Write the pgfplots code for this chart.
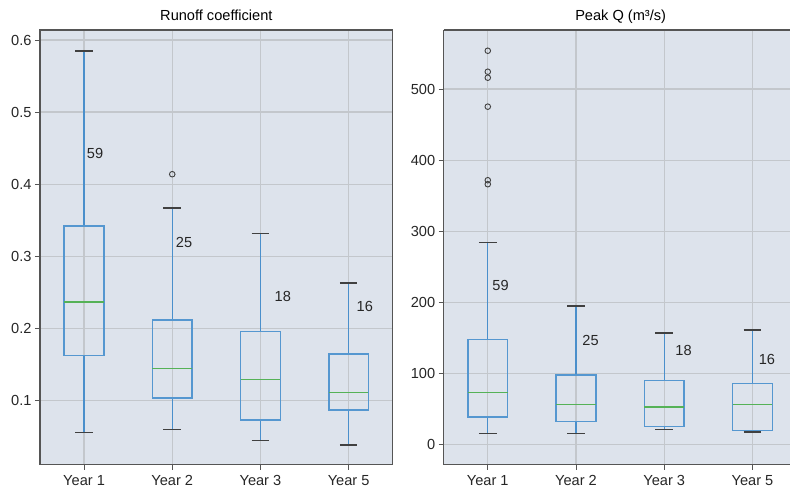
\documentclass[border=0pt]{standalone}
\usepackage{fontspec}
\setmainfont{Liberation Sans}
\usepackage{pgfplots}
\pgfplotsset{compat=1.18}

\definecolor{panelbg}{HTML}{DDE3EC}
\definecolor{gridgrey}{HTML}{C3C7CC}
\definecolor{framegrey}{HTML}{555555}
\definecolor{boxblue}{HTML}{5597D0}
\definecolor{whiskblue}{HTML}{4A8FCB}
\definecolor{medgreen}{HTML}{55B257}
\definecolor{capgrey}{HTML}{404040}

\newcommand{\lblfont}{\fontsize{14.6}{17}\selectfont}

\tikzset{
  cnt/.style={anchor=west, inner sep=0pt, font=\lblfont, text=black!85},
}

\pgfplotsset{
  panel/.style={
    scale only axis,
    height=435pt,
    axis background/.style={fill=panelbg},
    axis line style={framegrey, line width=1.2pt},
    grid=major,
    major grid style={gridgrey, line width=1.2pt},
    tick align=outside,
    tick pos=left,
    major tick length=5pt,
    tick style={framegrey, line width=0.9pt},
    xmin=0.5,
    xtick={1,2,3,4},
    xticklabels={Year 1, Year 2, Year 3, Year 5},
    /pgf/number format/assume math mode=true,
    tick label style={font=\lblfont, text=black!85},
    title style={font=\lblfont, at={(0.5,1)}, anchor=base, yshift=3pt},
    xticklabel style={yshift=-2pt},
  },
  outl/.style={only marks, mark=o, mark size=2.8pt,
    mark options={draw=capgrey, line width=0.9pt}},
}

% One box: #1 position, #2 lower whisker, #3 lower quartile,
% #4 median, #5 upper quartile, #6 upper whisker
\newcommand{\boxglyph}[6]{%
  \addplot[whiskblue, line width=1.3pt] table[row sep=\\, x expr=\thisrow{d}+#1, y=v]
    {d v\\ 0 #2\\ 0 #3\\};
  \addplot[whiskblue, line width=1.3pt] table[row sep=\\, x expr=\thisrow{d}+#1, y=v]
    {d v\\ 0 #5\\ 0 #6\\};
  \addplot[boxblue, line width=1.5pt, line join=miter] table[row sep=\\, x expr=\thisrow{d}+#1, y=v]
    {d v\\ -0.225 #3\\ 0.225 #3\\ 0.225 #5\\ -0.225 #5\\ -0.225 #3\\ 0.225 #3\\};
  \addplot[medgreen, line width=1.4pt] table[row sep=\\, x expr=\thisrow{d}+#1, y=v]
    {d v\\ -0.225 #4\\ 0.225 #4\\};
  \addplot[capgrey, line width=1.4pt] table[row sep=\\, x expr=\thisrow{d}+#1, y=v]
    {d v\\ -0.1 #2\\ 0.1 #2\\};
  \addplot[capgrey, line width=1.4pt] table[row sep=\\, x expr=\thisrow{d}+#1, y=v]
    {d v\\ -0.1 #6\\ 0.1 #6\\};
}

\begin{document}
\begin{tikzpicture}
% page frame
\path (0,0) rectangle (791pt,492pt);

% Runoff coefficient
\begin{axis}[panel, at={(40pt,27pt)}, anchor=south west,
  width=353pt, xmax=4.5,
  title={Runoff coefficient},
  ymin=0.0109, ymax=0.6139,
  ytick={0.1,0.2,0.3,0.4,0.5,0.6},
  yticklabel style={/pgf/number format/fixed, /pgf/number format/precision=1,
    /pgf/number format/fixed zerofill},
]
\boxglyph{1}{0.0552}{0.162}{0.2364}{0.342}{0.585}
\boxglyph{2}{0.0594}{0.1037}{0.1444}{0.2119}{0.3667}
\boxglyph{3}{0.0441}{0.0728}{0.1291}{0.1957}{0.3315}
\boxglyph{4}{0.0382}{0.0867}{0.1111}{0.1643}{0.2627}
\addplot[outl] coordinates {(2,0.4138)};
\node[cnt] at (axis cs:1.03,0.442) {59};
\node[cnt] at (axis cs:2.04,0.3186) {25};
\node[cnt] at (axis cs:3.16,0.244) {18};
\node[cnt] at (axis cs:4.09,0.231) {16};
\end{axis}

% Peak discharge (panel runs on past the right edge)
\begin{axis}[panel, at={(444pt,27pt)}, anchor=south west,
  width=347pt, xmax=4.43,
  axis x line*=box, axis y line*=left,
  title={Peak Q (m³/s)},
  title style={at={(0.5104,1)}},
  ymin=-28, ymax=583,
  ytick={0,100,200,300,400,500},
]
\boxglyph{1}{15.9}{39.3}{73}{147.9}{284.2}
\boxglyph{2}{15.9}{32.8}{56.6}{98.3}{195.2}
\boxglyph{3}{21.5}{25.7}{52.9}{90.3}{156.8}
\boxglyph{4}{17.8}{20.1}{56.6}{86.1}{161}
\addplot[outl] coordinates {(1,553.8) (1,524.3) (1,515.9) (1,475.2) (1,371.8) (1,366.2)};
\node[cnt] at (axis cs:1.05,223.7) {59};
\node[cnt] at (axis cs:2.07,146.5) {25};
\node[cnt] at (axis cs:3.125,133) {18};
\node[cnt] at (axis cs:4.07,119.4) {16};
\end{axis}
\end{tikzpicture}
\end{document}
